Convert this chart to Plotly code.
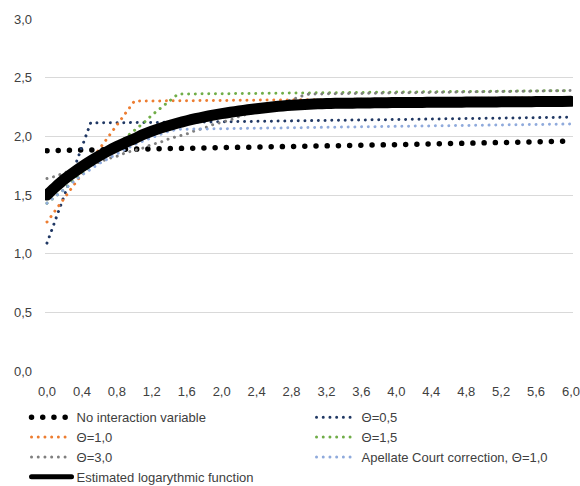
import plotly.graph_objects as go

X = [0.0, 0.1, 0.2, 0.3, 0.4, 0.5, 0.6, 0.7, 0.8, 0.9,
     1.0, 1.1, 1.2, 1.3, 1.4, 1.5, 1.6, 1.7, 1.8, 1.9,
     2.0, 2.1, 2.2, 2.3, 2.4, 2.5, 2.6, 2.7, 2.8, 2.9,
     3.0, 3.1, 3.2, 3.3, 3.4, 3.5, 3.6, 3.7, 3.8, 3.9,
     4.0, 4.1, 4.2, 4.3, 4.4, 4.5, 4.6, 4.7, 4.8, 4.9,
     5.0, 5.1, 5.2, 5.3, 5.4, 5.5, 5.6, 5.7, 5.8, 5.9, 6.0]

NO_INTERACTION = [1.878, 1.879, 1.880, 1.882, 1.883, 1.884, 1.885, 1.886, 1.888, 1.889,
                  1.890, 1.891, 1.892, 1.894, 1.895, 1.896, 1.897, 1.898, 1.900, 1.901,
                  1.902, 1.903, 1.904, 1.906, 1.907, 1.908, 1.909, 1.910, 1.912, 1.913,
                  1.914, 1.915, 1.917, 1.918, 1.920, 1.921, 1.922, 1.924, 1.925, 1.927,
                  1.928, 1.930, 1.931, 1.933, 1.935, 1.936, 1.938, 1.939, 1.941, 1.943,
                  1.944, 1.946, 1.947, 1.949, 1.951, 1.952, 1.954, 1.955, 1.957, 1.959, 1.960]

THETA_05 = [1.090, 1.295, 1.500, 1.705, 1.910, 2.115, 2.115, 2.115, 2.116, 2.116,
            2.117, 2.117, 2.118, 2.118, 2.119, 2.120, 2.120, 2.121, 2.122, 2.123,
            2.124, 2.125, 2.126, 2.127, 2.128, 2.128, 2.129, 2.130, 2.131, 2.132,
            2.133, 2.134, 2.135, 2.136, 2.137, 2.138, 2.139, 2.140, 2.141, 2.142,
            2.143, 2.144, 2.145, 2.146, 2.147, 2.148, 2.149, 2.150, 2.151, 2.152,
            2.153, 2.154, 2.155, 2.156, 2.157, 2.158, 2.159, 2.160, 2.161, 2.162, 2.163]

THETA_10 = [1.270, 1.370, 1.480, 1.580, 1.680, 1.790, 1.890, 1.990, 2.090, 2.200,
            2.300, 2.301, 2.301, 2.302, 2.302, 2.303, 2.304, 2.304, 2.305, 2.305,
            2.306, 2.307, 2.307, 2.308, 2.308, 2.309, 2.310, 2.310, 2.311, 2.311,
            2.312, 2.313, 2.313, 2.314, 2.314, 2.315, 2.316, 2.316, 2.317, 2.317,
            2.318, 2.319, 2.319, 2.320, 2.320, 2.321, 2.322, 2.322, 2.323, 2.323,
            2.324, 2.325, 2.325, 2.326, 2.326, 2.327, 2.328, 2.328, 2.329, 2.329, 2.330]

THETA_15 = [1.430, 1.490, 1.550, 1.620, 1.680, 1.740, 1.810, 1.870, 1.930, 1.990,
            2.050, 2.110, 2.180, 2.240, 2.300, 2.360, 2.361, 2.361, 2.362, 2.363,
            2.363, 2.364, 2.365, 2.365, 2.366, 2.367, 2.367, 2.368, 2.369, 2.369,
            2.370, 2.371, 2.371, 2.372, 2.373, 2.373, 2.374, 2.375, 2.375, 2.376,
            2.377, 2.377, 2.378, 2.379, 2.379, 2.380, 2.381, 2.381, 2.382, 2.383,
            2.383, 2.384, 2.385, 2.385, 2.386, 2.387, 2.387, 2.388, 2.389, 2.389, 2.390]

THETA_30 = [1.640, 1.660, 1.690, 1.710, 1.740, 1.760, 1.780, 1.810, 1.830, 1.860,
            1.880, 1.900, 1.930, 1.950, 1.980, 2.000, 2.020, 2.050, 2.070, 2.100,
            2.120, 2.140, 2.170, 2.190, 2.220, 2.240, 2.260, 2.290, 2.310, 2.340,
            2.360, 2.361, 2.362, 2.363, 2.364, 2.365, 2.366, 2.367, 2.368, 2.369,
            2.370, 2.371, 2.372, 2.373, 2.374, 2.375, 2.376, 2.377, 2.378, 2.379,
            2.380, 2.381, 2.382, 2.383, 2.384, 2.385, 2.386, 2.387, 2.388, 2.389, 2.390]

APPELLATE = [1.430, 1.490, 1.550, 1.610, 1.670, 1.720, 1.770, 1.810, 1.850, 1.890,
             1.930, 1.960, 1.990, 2.020, 2.045, 2.060, 2.061, 2.062, 2.063, 2.064,
             2.065, 2.066, 2.067, 2.068, 2.069, 2.070, 2.071, 2.072, 2.073, 2.074,
             2.075, 2.076, 2.077, 2.078, 2.079, 2.080, 2.081, 2.082, 2.083, 2.084,
             2.085, 2.086, 2.087, 2.088, 2.089, 2.090, 2.091, 2.092, 2.093, 2.094,
             2.095, 2.096, 2.097, 2.098, 2.099, 2.100, 2.101, 2.102, 2.103, 2.104, 2.105]

EST_LOG = [1.500, 1.570, 1.635, 1.690, 1.742, 1.790, 1.834, 1.875, 1.913, 1.948,
           1.980, 2.015, 2.045, 2.070, 2.093, 2.114, 2.133, 2.150, 2.166, 2.180,
           2.193, 2.205, 2.216, 2.226, 2.235, 2.244, 2.252, 2.259, 2.265, 2.270,
           2.274, 2.277, 2.279, 2.281, 2.282, 2.283, 2.284, 2.285, 2.286, 2.287,
           2.288, 2.288, 2.289, 2.289, 2.290, 2.290, 2.291, 2.291, 2.292, 2.292,
           2.293, 2.293, 2.294, 2.294, 2.295, 2.295, 2.296, 2.296, 2.297, 2.297, 2.298]

X_TICKS = [0.0, 0.4, 0.8, 1.2, 1.6, 2.0, 2.4, 2.8, 3.2, 3.6, 4.0, 4.4, 4.8, 5.2, 5.6, 6.0]
X_TICK_LABELS = ["0,0", "0,4", "0,8", "1,2", "1,6", "2,0", "2,4", "2,8",
                 "3,2", "3,6", "4,0", "4,4", "4,8", "5,2", "5,6", "6,0"]
Y_TICKS = [0.0, 0.5, 1.0, 1.5, 2.0, 2.5, 3.0]
Y_TICK_LABELS = ["0,0", "0,5", "1,0", "1,5", "2,0", "2,5", "3,0"]

NAMES = ["No interaction variable", "\u0398=0,5", "\u0398=1,0", "\u0398=1,5",
         "\u0398=3,0", "Apellate Court correction, \u0398=1,0", "Estimated logarythmic function"]

FONT = "Liberation Sans, Arial, sans-serif"

fig = go.Figure()

# (name, values, color, width, fallback dash, round dash)
series = [
    (NAMES[0], NO_INTERACTION, "#000000", 5.5, "5px,6px", "0.01,11.2"),
    (NAMES[1], THETA_05, "#203864", 3, "3px,3.7px", "0.01,6.7"),
    (NAMES[2], THETA_10, "#ED7D31", 3, "3px,3.7px", "0.01,6.7"),
    (NAMES[3], THETA_15, "#70AD47", 3, "3px,3.7px", "0.01,6.7"),
    (NAMES[4], THETA_30, "#7F7F7F", 3, "3px,3.7px", "0.01,6.7"),
    (NAMES[5], APPELLATE, "#8FAADC", 3, "3px,3.7px", "0.01,6.7"),
]
for name, vals, color, w, dash, rdash in series:
    fig.add_trace(go.Scatter(x=X, y=vals, mode="lines", name=name,
                             line=dict(color=color, width=w, dash=dash),
                             meta=rdash, hoverinfo="skip"))

fig.add_trace(go.Scatter(x=X, y=EST_LOG, mode="lines", name=NAMES[6],
                         line=dict(color="#000000", width=11, shape="spline", smoothing=0.6),
                         meta="solid", showlegend=False, hoverinfo="skip"))
fig.add_trace(go.Scatter(x=[None], y=[None], mode="lines", name=NAMES[6],
                         line=dict(color="#000000", width=5),
                         meta="solid", hoverinfo="skip"))

fig.update_layout(
    width=580, height=486,
    margin=dict(l=45, r=7, t=19, b=115, autoexpand=False),
    paper_bgcolor="white", plot_bgcolor="white",
    font=dict(family=FONT, size=13, color="#404040"),
    hovermode=False,
    legend=dict(orientation="h", x=-0.035, xanchor="left", y=-0.0886, yanchor="top",
                entrywidth=230, entrywidthmode="pixels", itemwidth=40,
                font=dict(family=FONT, size=13, color="#404040"),
                tracegroupgap=0, bgcolor="rgba(0,0,0,0)"),
)
fig.update_xaxes(range=[-0.023, 6.023], tickmode="array", tickvals=X_TICKS,
                 ticktext=X_TICK_LABELS, showgrid=False, zeroline=False,
                 showline=False, ticks="", ticklabelstandoff=11,
                 ticklabeloverflow="allow")
fig.update_yaxes(range=[0, 3], tickmode="array", tickvals=Y_TICKS,
                 ticktext=Y_TICK_LABELS, showgrid=True, gridcolor="#D9D9D9",
                 gridwidth=1, zeroline=False, showline=False, ticks="",
                 ticklabelstandoff=12)

post = """
document.documentElement.style.margin = '0';
document.body.style.margin = '0';
document.body.style.overflow = 'hidden';
var gd = document.getElementById('{plot_id}');
function fixDots(){
  var groups = gd.querySelectorAll('g.scatterlayer g.trace, g.legend g.traces');
  groups.forEach(function(g){
    var d = g.__data__; if(!d) return;
    var cd = Array.isArray(d) ? d[0] : d;
    if (Array.isArray(cd)) cd = cd[0];
    var tr = cd && cd.trace; if(!tr || !tr.meta) return;
    var m = tr.meta;
    g.querySelectorAll('path.js-line, .legendlines path').forEach(function(p){
      p.style.strokeLinecap = 'round';
      p.style.strokeLinejoin = 'round';
      if (m !== 'solid') p.style.strokeDasharray = m;
    });
  });
}
fixDots();
gd.on('plotly_afterplot', fixDots);
"""

fig.write_html("out.html", post_script=post, config={"displayModeBar": False})
